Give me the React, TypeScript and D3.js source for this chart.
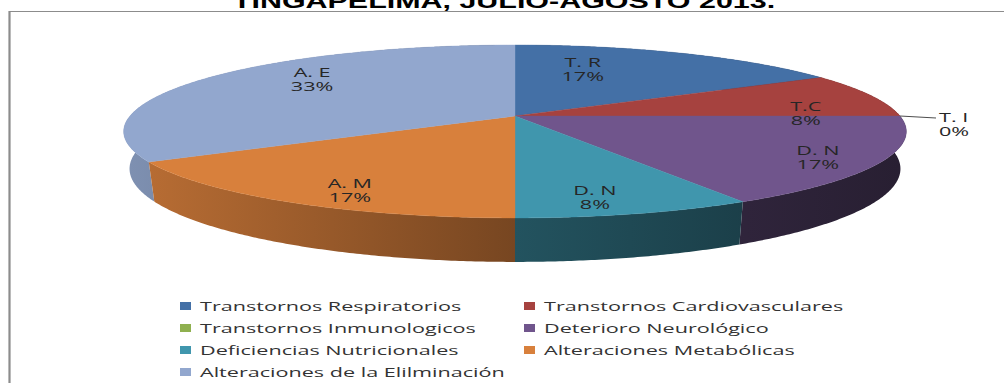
import React from 'react';
import * as d3 from 'd3';

// Series data
const categories = [
  'Transtornos Respiratorios',
  'Transtornos Cardiovasculares',
  'Transtornos Inmunologicos',
  'Deterioro Neurológico',
  'Deficiencias Nutricionales',
  'Alteraciones Metabólicas',
  'Alteraciones de la Elilminación',
];
const shortLabels = ['T. R', 'T.C', 'T. I', 'D. N', 'D. N', 'A. M', 'A. E'];
const counts = [2, 1, 0, 2, 1, 2, 4];
const colors = ['#4470a6', '#a6423f', '#8fb04f', '#70558c', '#4096ad', '#d8803c', '#92a7ce'];
const titleText = 'TINGAPELIMA, JULIO-AGOSTO 2013.';

// Layout
const W = 1004;
const H = 383;
const CX = 515;
const CY = 116;
const FX = 385; // horizontal radius at the pie's centre line
const FY = 83.7; // vertical radius factor (tilt)
const PERSP = 0.179; // perspective strength
const DEPTH = 36.1; // wall height
const BOTTOM_SCALE = 0.985;
const TEXT_STRETCH = 1.6;
const LABEL_LINE = 14;

// label placement per slice: [angle nudge (deg), radial fraction]
const labelPlacement: [number, number][] = [
  [-12.6, 0.654],
  [12.3, 0.761],
  [0, 1],
  [1.9, 0.852],
  [2.9, 0.844],
  [-4.1, 0.848],
  [10, 0.747],
];

function project(theta: number, r: number, drop = 0): [number, number] {
  const X = r * Math.sin(theta);
  const Z = -r * Math.cos(theta);
  const w = 1 - PERSP * Z;
  const sx = drop ? BOTTOM_SCALE : 1;
  return [CX + (FX * X * sx) / w, CY + (FY * Z) / w + (drop * DEPTH) / w];
}

// wall brightness across the pie, left (lit) to right (shadow)
const shadeDomain = [-1, 0, 0.6, 1];
const shadeRange = [0.86, 0.55, 0.42, 0.36];

function darken(hex: string, k: number) {
  const c = d3.rgb(hex);
  return d3.rgb(c.r * k, c.g * k, c.b * k).formatHex();
}

function Stretched({ x, y, children, anchor = 'middle', size = 13.5, weight = 'normal', family = "'Open Sans', sans-serif", fill = '#262626', sx = TEXT_STRETCH }: any) {
  return (
    <text
      transform={`translate(${x},${y}) scale(${sx},1)`}
      textAnchor={anchor}
      dominantBaseline="central"
      fontSize={size}
      fontWeight={weight}
      fontFamily={family}
      fill={fill}
    >
      {children}
    </text>
  );
}

// two-line data label drawn as a single text block
function DataLabel({ x, y, lines, anchor = 'middle' }: { x: number; y: number; lines: string[]; anchor?: string }) {
  return (
    <text
      transform={`translate(${x},${y}) scale(${TEXT_STRETCH},1)`}
      textAnchor={anchor}
      fontSize={13.5}
      fontFamily="'Open Sans', sans-serif"
      fill="#262626"
    >
      {lines.map((t, k) => (
        <tspan key={k} x={0} y={k * LABEL_LINE} dy="0.35em">
          {t}
        </tspan>
      ))}
    </text>
  );
}

export default function App() {
  const arcs = d3.pie<number>().sort(null).startAngle(0).endAngle(2 * Math.PI)(counts);
  const step = Math.PI / 360;

  const arcPoints = (a0: number, a1: number, drop: number) => {
    const n = Math.max(2, Math.ceil((a1 - a0) / step));
    return d3.range(n + 1).map((k) => project(a0 + ((a1 - a0) * k) / n, 1, drop));
  };

  // outer walls, painted back to front
  const walls = arcs
    .map((a, i) => ({ a, i, z: -Math.cos((a.startAngle + a.endAngle) / 2) }))
    .filter((w) => w.a.endAngle - w.a.startAngle > 0)
    .sort((p, q) => p.z - q.z)
    .map(({ a, i }) => {
      const top = arcPoints(a.startAngle, a.endAngle, 0);
      const bot = arcPoints(a.startAngle, a.endAngle, 1).reverse();
      return { i, d: 'M' + top.concat(bot).map((q) => q.join(',')).join('L') + 'Z' };
    });

  const topPath = (a: d3.PieArcDatum<number>) => {
    const pts: [number, number][] = [[CX, CY], ...arcPoints(a.startAngle, a.endAngle, 0)];
    return 'M' + pts.map((q) => q.join(',')).join('L') + 'Z';
  };

  const total = d3.sum(counts);
  const pct = (v: number) => `${Math.round((v / total) * 100)}%`;

  const gx0 = CX - FX * 1.02;
  const gx1 = CX + FX * 1.02;
  const gradOffset = d3.scaleLinear().domain([gx0, gx1]).range([0, 1]);

  const legendX = d3.scaleOrdinal<number, number>().domain([0, 1]).range([180, 524]);
  const legendY = (row: number) => 306 + row * 22;

  return (
    <svg width={W} height={H} style={{ position: 'absolute', left: 0, top: 0, background: '#fff' }}>
      <defs>
        {colors.map((c, i) => (
          <linearGradient key={i} id={`wall${i}`} gradientUnits="userSpaceOnUse" x1={gx0} y1={0} x2={gx1} y2={0}>
            {shadeDomain.map((X, k) => (
              <stop key={k} offset={gradOffset(CX + FX * X)} stopColor={darken(c, shadeRange[k])} />
            ))}
          </linearGradient>
        ))}
      </defs>
      <rect width={W} height={H} fill="#fff" />
      {/* chart frame */}
      <line x1={9} y1={11.5} x2={W} y2={11.5} stroke="#8c8c8c" strokeWidth={1} />
      <line x1={9.5} y1={11} x2={9.5} y2={H} stroke="#8c8c8c" strokeWidth={2.2} />

      <Stretched x={504} y={1} size={21} weight="bold" family="'Liberation Sans', Arial, sans-serif" fill="#000" sx={1.45}>
        {titleText}
      </Stretched>

      {walls.map((w) => (
        <path key={'w' + w.i} d={w.d} fill={`url(#wall${w.i})`} />
      ))}
      {arcs.map((a, i) =>
        a.endAngle - a.startAngle > 0 ? (
          <path key={'t' + i} d={topPath(a)} fill={colors[i]} stroke={colors[i]} strokeWidth={0.4} />
        ) : null
      )}

      {arcs.map((a, i) => {
        const mid = (a.startAngle + a.endAngle) / 2;
        const lines = [shortLabels[i], pct(a.data)];
        if (a.endAngle - a.startAngle <= 0) {
          const [ex, ey] = project(mid, 1);
          const lx = ex + 36;
          return (
            <g key={'l' + i}>
              <polyline points={`${ex},${ey} ${lx},${ey + 2}`} fill="none" stroke="#4d4d4d" strokeWidth={1} />
              <DataLabel x={lx + 3} y={ey + 1} lines={lines} anchor="start" />
            </g>
          );
        }
        const [nudge, r] = labelPlacement[i];
        const [x, y] = project(mid + (nudge * Math.PI) / 180, r);
        return <DataLabel key={'l' + i} x={x} y={y - LABEL_LINE / 2} lines={lines} />;
      })}

      {categories.map((c, i) => {
        const col = i % 2;
        const row = Math.floor(i / 2);
        const x = legendX(col);
        const y = legendY(row);
        return (
          <g key={'g' + i}>
            <rect x={x} y={y - 4} width={11} height={8} fill={colors[i]} />
            <Stretched x={x + 20} y={y} anchor="start" size={13.5} fill="#333">
              {c}
            </Stretched>
          </g>
        );
      })}
    </svg>
  );
}
